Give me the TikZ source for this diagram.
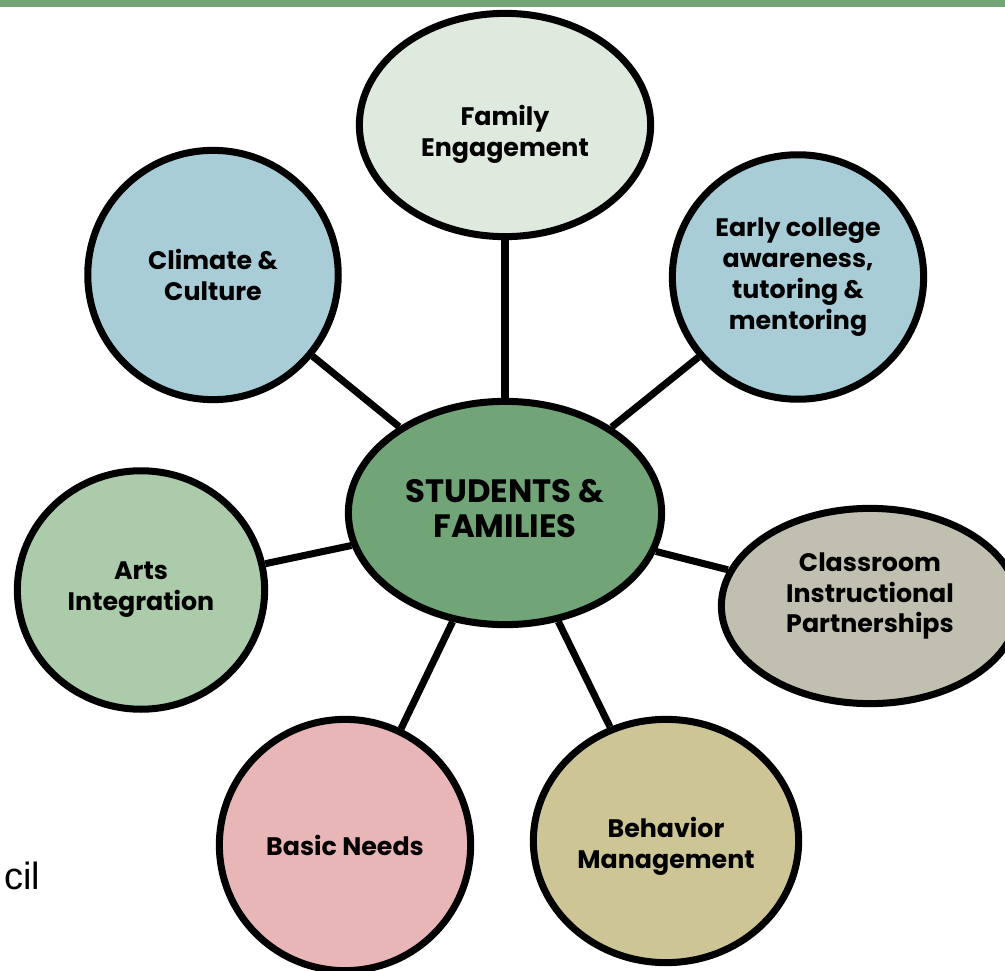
\documentclass[tikz,border=0pt]{standalone}
\usepackage{fontspec}
\setmainfont{Poppins}
\newfontfamily\arialfont{Liberation Sans}
\usepackage{tikz}
\usetikzlibrary{calc}
\usetikzlibrary{shapes}

\definecolor{hubgreen}{HTML}{71A477}
\definecolor{familygreen}{HTML}{DFEADF}
\definecolor{climateblue}{HTML}{A8CDD7}
\definecolor{artsgreen}{HTML}{ABCBAB}
\definecolor{classgrey}{HTML}{C1BFB0}
\definecolor{needspink}{HTML}{E8B6B6}
\definecolor{behaviortan}{HTML}{CEC596}

\begin{document}
\begin{tikzpicture}[x=0.025cm, y=-0.025cm, line width=5pt,
        hub_style/.style={ellipse,draw=black,fill=hubgreen,align=center,inner sep=0pt,font=\bfseries\fontsize{23}{25}\selectfont},
        topic_style/.style={ellipse,draw=black,align=center,inner sep=0pt,font=\bfseries\fontsize{18}{22}\selectfont},
        edge_style/.style={draw=black, line width=5pt}]

        \useasboundingbox (0,0) rectangle (1005,971);
        \clip (0,0) rectangle (1005,971);

        \fill [hubgreen] (0,0) rectangle (1005,7);

        \node [hub_style,minimum width=7.83cm,minimum height=5.58cm](n0) at (505,513) {STUDENTS \&\\FAMILIES\rule[-7pt]{0pt}{0pt}};

        \node [topic_style,fill=familygreen,minimum width=7.28cm,minimum height=5.58cm](n1) at (505,125) {\rule{0pt}{28pt}Family\\Engagement};

        \node [topic_style,fill=climateblue,minimum width=6.26cm,minimum height=6.23cm](n2) at (213,275) {Climate \&\\Culture};

        \node [topic_style,fill=climateblue,minimum width=6.28cm,minimum height=6.11cm](n3) at (798,277) {Early college\\awareness,\\tutoring \&\\mentoring};

        \node [topic_style,fill=artsgreen,minimum width=6.18cm,minimum height=5.96cm](n4) at (141,590) {Arts\\Integration};

        \node [topic_style,fill=classgrey,minimum width=7.43cm,minimum height=4.88cm](n5) at (870,606) {Classroom\\Instructional\\Partnerships\rule[-19pt]{0pt}{0pt}};

        \node [topic_style,fill=needspink,minimum width=6.28cm,minimum height=6.28cm](n6) at (345,845) {Basic Needs};

        \node [topic_style,fill=behaviortan,minimum width=6.63cm,minimum height=6.08cm](n7) at (666,841) {\rule{0pt}{22pt}Behavior\\Management};

        \draw [edge_style] (n0) edge (n1);

        \draw [edge_style] (n0) edge (n2);

        \draw [edge_style] (n0) edge (n3);

        \draw [edge_style] (n0) edge (n4);

        \draw [edge_style] (n0) edge (n5);

        \draw [edge_style] (n0) edge (n6);

        \draw [edge_style] (n0) edge (n7);

        \node [anchor=base west,inner sep=0pt,font=\arialfont\fontsize{27}{30}\selectfont](cut) at (1,889) {cil};

        \end{tikzpicture}
\end{document}
